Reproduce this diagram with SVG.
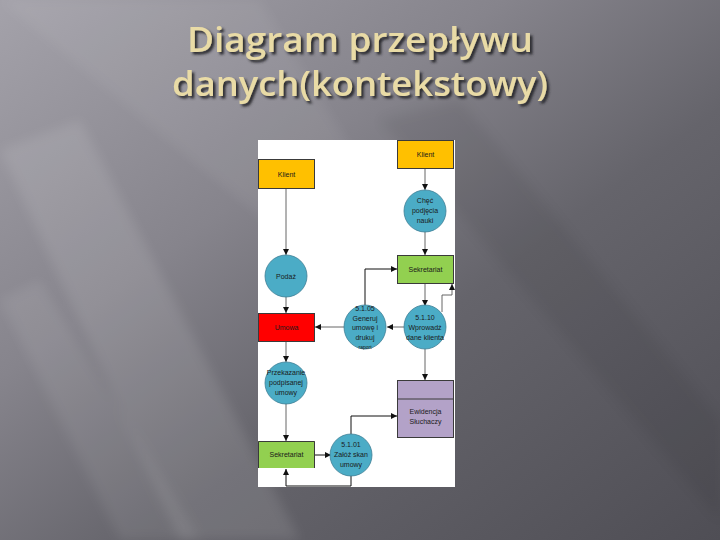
<svg xmlns="http://www.w3.org/2000/svg" width="720" height="540" viewBox="0 0 720 540">
<defs>
<linearGradient id="bg" x1="0" y1="0" x2="1" y2="1">
<stop offset="0" stop-color="#a4a2aa"/>
<stop offset="0.35" stop-color="#86848c"/>
<stop offset="0.6" stop-color="#65646b"/>
<stop offset="1" stop-color="#4f4e55"/>
</linearGradient>
<filter id="blur"><feGaussianBlur stdDeviation="6"/></filter>
<filter id="shadow" x="-5%" y="-20%" width="110%" height="140%"><feDropShadow dx="2.5" dy="2.5" stdDeviation="0.8" flood-color="#26262a" flood-opacity="0.95"/></filter>
<marker id="arr" viewBox="0 0 10 10" refX="10" refY="5" markerWidth="6" markerHeight="6" orient="auto" markerUnits="userSpaceOnUse">
<path d="M0,0 L10,5 L0,10 z" fill="#111"/>
</marker>
</defs>
<style>
.title{font-family:"Open Sans","DejaVu Sans",sans-serif;font-weight:600;font-size:34px;fill:#e9dba6;}
.box{stroke:#3a3a3a;stroke-width:1;}
.yel{fill:#ffc000;}
.grn{fill:#92d050;}
.red{fill:#ff0000;}
.prp{fill:#b3a2c8;}
.cir{fill:#4bacc6;stroke:#3d7f95;stroke-width:0.8;}
.lbl{font-family:"Liberation Sans",Arial,sans-serif;font-size:7px;fill:#1a1a1a;text-anchor:middle;}
.con{fill:none;stroke:#555;stroke-width:0.9;}
.conk{fill:none;stroke:#111;stroke-width:1;}
</style>
<rect width="720" height="540" fill="url(#bg)"/>
<g filter="url(#blur)">
<polygon points="0,150 80,120 300,540 180,540" fill="#ffffff" opacity="0.10"/>
<polygon points="0,300 40,280 200,540 120,540" fill="#ffffff" opacity="0.08"/>
<polygon points="0,0 260,0 420,260 360,300" fill="#ffffff" opacity="0.06"/>
<polygon points="380,120 460,100 720,420 720,520" fill="#000000" opacity="0.06"/>
</g>
<g id="title" filter="url(#shadow)">
<text class="title" x="360" y="52" text-anchor="middle" textLength="346" lengthAdjust="spacingAndGlyphs">Diagram przepływu</text>
<text class="title" x="360" y="96" text-anchor="middle" textLength="376" lengthAdjust="spacingAndGlyphs">danych(kontekstowy)</text>
</g>
<rect id="panel" x="258" y="140" width="197" height="347" fill="#ffffff"/>
<g id="connectors">
<path class="con" d="M286,189 V255" marker-end="url(#arr)"/>
<path class="con" d="M286,297 V313" marker-end="url(#arr)"/>
<path class="con" d="M286,342 V362" marker-end="url(#arr)"/>
<path class="con" d="M286,404 V441" marker-end="url(#arr)"/>
<path class="conk" d="M351,476 V486 H286 V469" marker-end="url(#arr)"/>
<path class="conk" d="M315,455 H331" marker-end="url(#arr)"/>
<path class="conk" d="M351,434 V416 H397" marker-end="url(#arr)"/>
<path class="con" d="M425,169 V190" marker-end="url(#arr)"/>
<path class="con" d="M425,232 V255" marker-end="url(#arr)"/>
<path class="con" d="M425,283 V306" marker-end="url(#arr)"/>
<path class="con" d="M404,327 H387" marker-end="url(#arr)"/>
<path class="con" d="M344,327 H315" marker-end="url(#arr)"/>
<path class="conk" d="M365,305 V269 H397" marker-end="url(#arr)"/>
<path class="con" d="M442,312 V295 H452 V284" marker-end="url(#arr)"/>
<path class="con" d="M425,349 V380" marker-end="url(#arr)"/>
</g>
<g id="klient-left">
<rect class="box yel" x="258.5" y="159.5" width="56" height="29"/>
<text class="lbl" x="286.5" y="176.5">Klient</text>
</g>
<g id="klient-right">
<rect class="box yel" x="397.5" y="140.5" width="56" height="28"/>
<text class="lbl" x="425.5" y="157">Klient</text>
</g>
<g id="chec">
<ellipse class="cir" cx="425" cy="211" rx="21" ry="21"/>
<text class="lbl" x="425" y="203">Chęć</text>
<text class="lbl" x="425" y="213">podjęcia</text>
<text class="lbl" x="425" y="223">nauki</text>
</g>
<g id="sekretariat-top">
<rect class="box grn" x="397.5" y="255.5" width="56" height="28"/>
<text class="lbl" x="425.5" y="272">Sekretariat</text>
</g>
<g id="podaz">
<ellipse class="cir" cx="286" cy="276" rx="21" ry="21"/>
<text class="lbl" x="286" y="278.5">Podaż</text>
</g>
<g id="umowa">
<rect class="box red" x="258.5" y="313.5" width="56" height="28"/>
<text class="lbl" x="286.5" y="330">Umowa</text>
</g>
<g id="p5105">
<ellipse class="cir" cx="365" cy="327" rx="21" ry="22"/>
<text class="lbl" x="365" y="311">5.1.05</text>
<text class="lbl" x="365" y="320.5">Generuj</text>
<text class="lbl" x="365" y="330">umowę i</text>
<text class="lbl" x="365" y="339.5">drukuj</text>
<text class="lbl" x="365" y="348.5" style="font-size:5px">raport</text>
</g>
<g id="p5110">
<ellipse class="cir" cx="425" cy="327" rx="21" ry="22"/>
<text class="lbl" x="425" y="320">5.1.10</text>
<text class="lbl" x="425" y="330">Wprowadź</text>
<text class="lbl" x="425" y="340">dane klienta</text>
</g>
<g id="przekazanie">
<ellipse class="cir" cx="286" cy="383" rx="21" ry="21"/>
<text class="lbl" x="286" y="375">Przekazanie</text>
<text class="lbl" x="286" y="385">podpisanej</text>
<text class="lbl" x="286" y="395">umowy</text>
</g>
<g id="ewidencja">
<rect class="box prp" x="397.5" y="380.5" width="56" height="57"/>
<line class="box" x1="397.5" y1="399" x2="453.5" y2="399"/>
<text class="lbl" x="425.5" y="414">Ewidencja</text>
<text class="lbl" x="425.5" y="424">Słuchaczy</text>
</g>
<g id="sekretariat-bottom">
<path class="grn" d="M258,441 H315 V468 H258 Z"/>
<path class="box" fill="none" d="M258.5,468 V441.5 H314.5 V468"/>
<text class="lbl" x="286.5" y="457">Sekretariat</text>
</g>
<g id="p5101">
<ellipse class="cir" cx="351" cy="455" rx="21" ry="21"/>
<text class="lbl" x="351" y="447">5.1.01</text>
<text class="lbl" x="351" y="457">Załóż skan</text>
<text class="lbl" x="351" y="467">umowy</text>
</g>
</svg>
